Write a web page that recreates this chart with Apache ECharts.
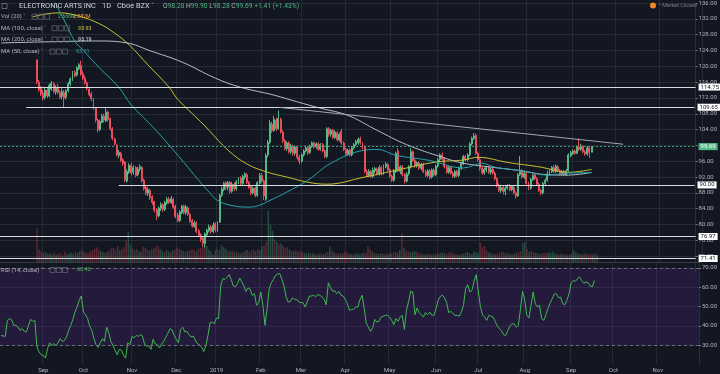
<!DOCTYPE html>
<html><head><meta charset="utf-8">
<script src="https://cdn.jsdelivr.net/npm/echarts@6/dist/echarts.min.js"></script>
<style>html,body{margin:0;padding:0;background:#131722;}#c{width:720px;height:374px;}</style>
</head><body><div id="c"></div>
<script>
// ---------- DATA ----------
const N = 331;                 // trading-day slots on the time axis (incl. future space)
const firstBar = 17;           // slot of the first visible candle
const monthTicks = {20:'Sep',39:'Oct',62:'Nov',83:'Dec',102:'2019',123:'Feb',142:'Mar',163:'Apr',184:'May',206:'Jun',226:'Jul',248:'Aug',270:'Sep',290:'Oct',311:'Nov'};
const priceTicks = {min:68, max:136, step:4};
// [open, high, low, close]
const ohlc = [
[121.6,121.8,115.5,116.0],[116.0,116.5,113.6,114.0],[114.5,115.0,112.5,113.0],[113.2,114.0,111.4,112.0],[112.2,114.8,111.6,114.0],
[114.0,114.5,112.0,112.5],[112.5,115.6,112.2,115.2],[114.2,116.3,113.8,115.8],[115.6,116.0,113.2,113.6],[113.5,115.2,112.8,114.6],
[114.8,115.6,112.9,113.4],[113.4,114.0,111.8,112.2],[112.4,114.5,111.6,113.6],[113.4,114.0,109.5,112.0],[112.2,114.2,111.6,113.8],
[113.8,116.0,113.4,115.6],[115.5,117.2,115.0,116.8],[116.6,118.8,116.3,118.4],[118.4,119.0,117.2,117.6],[117.8,120.0,117.4,119.6],
[119.4,120.8,119.0,120.4],[120.2,121.4,117.6,118.0],[118.2,118.8,116.5,117.0],[117.0,117.6,115.4,115.8],[115.8,116.2,113.9,114.4],
[114.2,114.6,112.4,112.8],[113.0,113.6,111.2,111.8],[111.6,112.0,109.0,109.6],[109.4,109.6,105.8,106.4],[106.4,106.8,103.3,104.0],
[104.0,106.5,103.6,106.0],[105.8,108.0,105.6,107.4],[107.4,108.0,105.8,106.4],[106.2,109.4,105.9,108.4],[108.4,108.8,106.0,106.6],
[106.8,107.0,103.8,104.2],[104.2,104.6,101.3,101.8],[101.6,102.0,100.0,100.4],[100.0,100.4,97.2,97.6],[97.5,98.8,96.8,98.2],
[98.0,98.4,95.8,96.2],[96.4,96.8,94.8,95.4],[95.8,96.0,90.7,91.2],[91.0,94.0,90.6,93.4],[93.2,95.5,92.8,95.0],
[95.0,95.6,92.4,93.0],[93.2,95.0,92.6,94.4],[94.4,94.8,92.0,92.4],[92.6,94.6,92.2,94.0],[94.0,95.2,93.4,94.6],
[94.4,94.8,90.6,91.0],[91.2,91.6,88.6,89.0],[89.4,89.8,87.4,88.0],[87.8,89.4,87.2,88.8],[88.6,89.0,86.2,86.8],
[87.0,87.4,85.0,85.6],[85.8,86.0,83.0,83.6],[83.8,84.2,81.2,82.2],[82.2,84.6,81.8,84.2],[84.0,85.6,83.4,85.0],
[85.0,85.4,83.2,83.8],[83.8,86.0,83.4,85.6],[85.4,87.0,85.0,86.4],[86.4,87.0,85.2,85.6],[85.6,87.2,85.2,86.6],
[86.4,86.8,84.0,84.4],[84.6,85.0,81.6,82.0],[82.4,83.0,80.6,81.0],[81.0,83.6,80.6,83.2],[83.0,85.0,82.6,84.6],
[84.6,85.0,82.6,83.0],[83.0,85.0,82.4,84.4],[84.2,84.6,82.2,82.6],[82.6,83.0,80.4,80.8],[81.0,81.4,79.2,79.6],
[79.6,81.0,79.2,80.4],[80.4,80.8,77.8,78.2],[78.4,78.8,76.8,77.2],[77.4,77.8,75.6,76.2],[76.6,77.0,74.4,75.2],
[75.2,78.0,74.2,77.6],[77.4,79.0,77.0,78.6],[78.4,80.0,78.0,79.4],[79.4,79.8,77.6,78.2],[78.2,80.6,77.8,79.8],
[80.2,80.6,78.0,78.6],[78.6,80.8,78.2,80.4],[80.6,87.8,80.4,87.4],[87.4,89.6,87.0,89.0],[88.8,90.8,88.4,90.4],
[90.6,91.0,88.8,89.4],[89.4,91.0,88.6,90.6],[90.6,91.0,87.8,88.4],[88.4,90.8,88.0,90.2],[90.2,90.6,88.4,89.0],
[89.0,91.2,88.6,90.8],[90.8,92.0,90.2,91.6],[91.8,92.2,90.0,90.4],[90.4,92.6,90.0,92.2],[92.0,93.2,91.4,92.8],
[92.6,93.0,90.2,90.6],[90.6,91.0,89.0,89.4],[89.6,90.0,87.4,88.0],[88.0,89.6,87.6,89.2],[89.2,89.6,86.9,87.4],
[87.4,91.0,87.0,90.6],[90.4,93.0,90.0,92.4],[92.4,93.0,90.6,91.0],[91.0,91.4,86.2,87.2],[86.4,98.0,86.0,97.4],
[97.6,101.4,97.0,100.8],[100.8,106.4,100.4,105.6],[105.4,106.0,103.2,103.8],[103.8,107.4,103.4,106.6],[106.4,107.0,103.6,104.2],
[104.2,108.8,104.0,106.8],[106.6,107.0,103.0,103.4],[103.4,103.8,100.6,101.2],[101.2,101.6,98.8,99.2],[99.2,101.0,98.6,100.6],
[100.6,101.0,98.0,98.4],[98.4,100.4,97.8,99.8],[99.8,100.2,97.4,98.0],[98.0,100.0,97.4,99.6],[99.6,100.0,96.4,97.0],
[97.0,97.6,95.2,96.0],[96.0,98.0,95.6,97.6],[97.6,99.0,97.2,98.6],[98.6,100.0,98.2,99.4],[99.4,99.8,97.6,98.2],
[98.2,100.2,97.8,99.8],[99.8,101.0,99.4,100.6],[100.6,101.0,99.2,99.6],[99.6,100.8,99.2,100.4],[100.4,100.8,98.6,99.0],
[99.0,100.6,98.6,100.2],[100.2,100.6,98.2,98.6],[98.6,99.0,96.8,97.2],[97.2,104.6,96.8,104.2],[104.2,104.6,102.2,102.8],
[102.8,104.2,102.2,103.8],[103.8,104.2,101.6,102.0],[102.0,103.8,101.6,103.4],[103.2,103.6,101.0,101.4],[101.4,103.2,101.0,102.8],
[103.6,104.2,100.2,100.6],[100.6,101.0,98.6,99.0],[99.0,99.4,97.4,97.8],[97.8,99.2,97.4,98.8],[98.8,99.2,97.2,97.6],
[97.6,99.8,97.2,99.4],[99.4,100.6,99.0,100.2],[100.2,101.4,99.8,101.0],[100.6,102.0,100.2,101.6],[101.6,102.2,100.2,100.6],
[100.4,100.8,99.0,99.4],[99.6,100.0,93.0,93.4],[93.4,94.0,92.0,92.4],[92.4,94.0,92.0,93.4],[93.4,93.8,91.8,92.2],
[92.2,94.4,91.8,93.8],[93.6,94.6,93.0,94.2],[94.0,94.4,92.4,92.8],[92.8,95.0,92.4,94.4],[94.4,94.8,92.4,93.0],
[93.0,95.2,92.6,94.6],[94.6,95.8,94.2,95.2],[95.2,95.6,93.4,93.8],[93.8,94.2,91.8,92.2],[92.2,92.6,90.8,91.2],
[91.2,94.0,90.8,93.6],[93.4,98.4,93.0,98.0],[98.6,99.3,93.2,93.6],[93.4,95.0,92.8,94.6],[94.6,95.0,92.2,92.6],
[92.6,93.0,90.4,91.0],[91.0,93.2,90.6,92.8],[92.8,95.0,92.4,94.6],[94.6,99.3,94.2,98.4],[98.4,98.8,95.8,96.2],
[96.2,96.6,94.4,94.8],[94.8,96.0,94.4,95.6],[95.6,96.0,93.8,94.2],[94.2,95.6,93.8,95.2],[95.2,95.6,93.0,93.4],
[93.4,93.8,92.0,92.4],[92.4,94.0,92.0,93.6],[93.6,94.0,91.4,92.0],[92.0,94.2,91.6,93.8],[93.8,94.2,92.2,92.6],
[92.6,95.2,92.2,94.8],[94.8,96.8,94.4,96.4],[96.4,98.0,96.0,97.6],[97.6,98.2,96.2,96.6],[96.6,97.0,94.2,94.6],
[94.6,95.0,92.8,93.2],[93.2,94.8,92.8,94.4],[94.4,94.8,92.6,93.0],[93.0,93.4,91.8,92.2],[92.2,93.8,91.8,93.4],
[93.4,93.8,92.0,92.4],[92.4,94.6,92.0,94.2],[94.2,95.8,93.8,95.4],[95.4,97.6,95.0,97.2],[97.2,97.6,96.0,96.4],
[96.4,98.0,96.0,97.6],[97.6,100.8,97.2,100.4],[100.4,102.2,100.0,101.8],[101.8,103.1,101.4,102.4],[102.6,103.0,97.6,98.0],
[98.0,98.4,96.0,96.4],[96.4,96.8,93.6,94.2],[94.2,94.6,92.6,93.0],[93.0,94.4,92.6,94.0],[93.8,94.8,93.2,94.4],
[94.4,94.8,92.8,93.2],[93.2,94.4,92.6,94.0],[94.0,94.4,92.6,93.0],[93.0,93.4,91.2,91.6],[91.6,92.0,89.4,90.0],
[90.0,90.4,88.2,88.6],[88.6,89.8,88.0,89.4],[89.4,89.8,87.6,88.4],[88.4,89.6,87.4,89.2],[89.2,90.2,88.8,89.8],
[89.8,90.2,88.4,88.8],[88.8,90.0,88.4,89.6],[89.4,89.8,87.6,88.0],[88.0,88.4,86.6,87.2],[87.2,93.0,87.0,92.6],
[92.6,97.3,92.2,93.4],[93.4,94.0,91.6,92.0],[92.0,93.6,91.6,93.0],[93.0,93.4,90.0,90.4],[90.4,90.8,88.7,89.2],
[89.2,91.8,88.8,91.4],[91.4,92.8,91.0,92.4],[92.6,93.0,91.2,91.6],[91.6,92.0,89.8,90.2],[90.2,90.6,88.2,88.6],
[88.6,89.0,87.4,88.0],[88.0,90.8,87.6,90.4],[90.4,91.6,90.0,91.2],[91.2,93.6,90.8,92.8],[92.8,94.0,92.4,93.6],
[93.4,94.8,93.0,94.4],[94.4,95.0,93.0,93.4],[93.4,95.2,93.0,94.8],[94.6,95.0,93.2,93.6],[93.6,94.0,92.4,92.8],
[92.8,93.8,92.4,93.4],[93.4,93.8,92.2,92.6],[92.6,94.0,92.2,93.6],[93.6,98.0,93.4,97.6],[97.4,98.6,97.0,98.2],
[98.0,99.0,97.6,98.6],[98.6,99.0,97.6,98.0],[98.0,100.0,97.8,99.6],[99.6,101.8,98.6,99.0],[99.0,100.4,98.6,99.8],
[99.8,100.0,98.0,98.4],[98.4,98.8,97.4,97.8],[97.8,99.8,97.4,99.4],[99.4,99.6,96.8,98.2],[98.28,99.9,98.28,99.69]
];
// volume in millions, one per candle
const volume = [
12,4.5,3.8,3.2,3.5,2.8,3.0,2.6,3.4,2.5,
2.8,3.1,2.4,3.6,2.7,3.0,3.3,2.9,3.5,3.1,
3.8,4.2,3.6,3.3,3.0,3.9,4.1,4.6,5.2,4.4,
3.8,3.5,3.2,3.6,4.0,4.8,5.0,4.2,5.5,4.0,
4.6,5.2,7.5,10.5,6.0,4.8,4.2,4.5,3.8,3.6,
5.4,5.0,4.4,3.9,4.6,4.8,5.2,5.8,4.6,4.0,
3.6,4.2,3.8,3.5,4.0,4.4,5.0,4.6,4.2,3.9,
3.6,3.8,4.0,4.5,4.3,3.7,4.6,4.9,5.3,6.2,
5.6,4.4,3.8,2.6,4.0,4.6,4.2,6.0,5.2,4.6,
3.8,3.6,4.0,3.4,3.6,3.2,3.0,3.5,3.8,4.2,
3.6,4.0,4.4,3.8,4.6,4.2,5.4,5.8,7.0,18.0,
13.0,11.0,8.0,7.0,6.2,6.5,5.8,5.0,5.2,4.4,
4.0,3.8,4.2,3.6,3.8,3.4,3.2,3.0,3.3,2.9,
3.1,2.8,2.6,2.9,3.0,2.7,3.2,3.4,5.4,4.0,
3.4,3.0,2.8,3.2,3.0,3.6,3.3,3.0,2.8,2.6,
2.9,3.1,2.7,3.0,3.4,3.2,5.6,4.4,3.6,3.2,
3.0,2.8,3.1,2.9,2.7,3.0,2.8,3.2,3.4,3.6,
3.3,4.2,10.0,5.0,4.0,3.8,3.4,3.6,3.8,3.5,
3.1,2.9,2.8,2.6,3.0,2.7,2.5,2.8,2.6,2.9,
3.1,3.3,3.0,2.8,3.2,3.4,2.9,2.7,2.6,2.5,
2.8,3.0,3.2,3.5,3.0,2.8,3.6,3.4,3.1,6.8,
5.2,5.6,4.0,3.4,3.0,2.8,2.6,2.9,3.2,3.6,
3.4,3.0,3.2,2.8,2.6,2.9,3.1,3.4,3.8,6.6,
7.0,4.6,3.6,3.8,3.4,3.2,3.0,2.8,3.1,3.3,
3.0,3.4,3.2,3.6,3.0,2.8,2.7,2.9,2.6,2.8,
2.5,2.7,2.9,4.2,3.4,3.0,2.8,2.6,3.1,2.9,
2.7,2.8,2.6,3.0,2.7
];
// RSI(14), one per slot from slot 0
const rsi = [
35.0,34.7,34.5,42.8,43.7,43.1,40.2,40.2,39.3,37.6,
38.5,37.1,36.8,40.2,43.3,42.3,42.8,29.0,26.4,25.0,
24.7,23.3,28.1,31.2,29.8,30.7,29.8,31.2,33.3,31.9,
32.3,34.2,37.6,40.2,43.3,47.1,49.7,53.2,55.4,47.1,
45.7,43.7,39.7,37.6,33.3,30.2,28.8,31.2,33.3,31.9,
39.3,36.4,31.9,29.8,27.3,25.0,27.8,27.3,24.7,23.3,
31.2,30.2,34.5,33.7,35.0,34.5,35.4,34.7,30.2,29.5,
29.5,27.8,33.0,30.7,30.2,28.5,30.5,31.9,34.0,36.1,
38.5,37.8,35.0,33.0,31.2,38.1,39.3,36.8,37.1,35.4,
34.2,34.7,32.5,30.7,30.2,29.0,26.7,29.8,35.0,41.6,
41.9,41.1,44.0,43.7,60.6,64.4,64.0,65.1,66.5,64.0,
60.6,60.2,61.8,64.7,62.7,60.6,57.8,59.6,58.9,55.7,
56.6,50.6,52.0,57.5,50.6,40.2,48.8,59.2,62.3,64.0,
66.1,66.8,67.0,64.0,60.6,54.9,52.3,52.6,54.4,53.7,
53.7,52.3,52.0,52.0,49.7,52.3,55.4,55.4,55.8,55.1,
56.1,55.8,54.9,53.7,50.9,62.3,59.9,57.8,58.2,56.6,
57.8,55.8,55.4,53.7,51.3,48.0,48.5,48.5,49.7,49.7,
53.7,55.8,48.8,41.1,39.3,37.1,39.0,43.3,41.9,42.3,
44.5,45.0,45.4,45.4,44.5,42.8,40.6,43.7,42.3,44.5,
45.4,38.1,48.0,52.6,57.8,57.5,45.7,49.2,46.8,45.7,
44.5,46.8,45.7,47.1,45.4,45.4,48.8,53.2,55.1,55.9,
54.5,52.0,46.8,47.5,46.3,45.4,45.4,45.0,47.1,50.6,
59.2,61.3,57.5,58.3,63.0,66.5,58.0,50.0,45.7,44.5,
42.8,45.4,45.0,44.5,42.3,39.9,38.5,37.5,35.4,35.0,
37.6,39.9,41.1,40.9,39.3,40.2,48.8,57.8,53.2,45.4,
44.0,50.6,57.5,51.4,49.7,50.6,43.7,42.8,45.7,48.8,
51.8,54.0,56.4,56.6,54.5,54.9,51.4,50.9,53.3,56.6,
62.3,63.4,63.0,64.4,65.3,63.4,62.0,62.7,62.3,60.6,
60.1,63.42
];
// moving averages: [slot, value]
const ma50 = [[25,136.8],[30,131.7],[35,126.4],[39,124.1],[47,119.5],[56,114.7],[62,110.2],[70,105.9],[78,101.3],[87,95.7],[94,91.2],[99,88.2],[103,86.1],[109,84.9],[117,84.4],[122,84.7],[128,86.1],[136,88.2],[146,91.2],[157,95.5],[173,98.8],[179,99.0],[188,97.5],[204,96.2],[220,94.3],[229,95.5],[235,94.5],[249,93.5],[260,92.5],[270,93.0],[281,93.11]];
const ma100 = [[15,132.5],[21,133.2],[28,133.5],[37,132.7],[47,130.7],[54,128.4],[61,125.4],[70,120.3],[80,114.7],[84,111.7],[95,106.0],[99,103.8],[108,98.8],[117,95.3],[127,93.2],[136,92.0],[146,90.7],[155,90.2],[173,92.0],[188,93.7],[207,95.8],[220,96.3],[227,97.0],[241,95.7],[257,94.5],[270,93.2],[281,93.93]];
const ma200 = [[0,125.9],[23,126.2],[47,126.4],[61,125.8],[70,124.1],[86,121.1],[102,117.0],[114,114.7],[130,112.7],[141,111.0],[152,109.4],[165,107.6],[179,103.8],[193,100.2],[210,97.0],[220,95.5],[235,94.4],[246,93.7],[260,92.6],[270,92.5],[281,93.19]];
// drawn horizontal levels (from = first slot, null = full width) and trend line
const levels = [
  {price:114.75, from:null},
  {price:109.65, from:12},
  {price:90.00,  from:56},
  {price:76.97,  from:null},
  {price:71.41,  from:null}
];
const lastClose = 99.69;
const trendLine = [[132,109.65],[296,100.3]];

// ---------- CHART ----------
const UP = '#53b987', DOWN = '#eb4d5c';
const GRID = '#262a35', TXT = '#b2b5be';
const FONT = 'Roboto, "Noto Sans", sans-serif';
const cats = Array.from({length:N}, (_, i) => i);
const candleData = [], volData = [];
for (let i = 0; i < N; i++) {
  const k = i - firstBar;
  if (k >= 0 && k < ohlc.length) {
    const [o,h,l,c] = ohlc[k];
    candleData.push([o,c,l,h]);
    volData.push({value: volume[k], itemStyle:{color: c >= o ? 'rgba(83,185,135,0.32)' : 'rgba(235,77,92,0.32)'}});
  } else { candleData.push('-'); volData.push('-'); }
}
const isMonth = (idx) => monthTicks[idx] !== undefined;

const lvlLabel = (p, bg, fg) => ({show:true, position:'end', distance:3, formatter:() => p.toFixed(2),
  backgroundColor:bg, color:fg, fontSize:6, fontFamily:FONT, padding:[1,2,0,2]});
const markData = [];
levels.forEach(L => {
  const ls = {color:'#d9dbe2', width:1.2, type:'solid'};
  if (L.from === null) markData.push({yAxis:L.price, lineStyle:ls, label:lvlLabel(L.price,'#ffffff','#131722')});
  else markData.push([{coord:[L.from, L.price], lineStyle:ls, label:lvlLabel(L.price,'#ffffff','#131722')},{coord:[N-1, L.price]}]);
});
markData.push({yAxis:lastClose, lineStyle:{color:'#3e9b7a', width:1, type:[2,2]}, label:lvlLabel(lastClose, UP, '#ffffff')});
markData.push([{coord:trendLine[0], lineStyle:{color:'#a3a6af', width:1, type:'solid'}, label:{show:false}},{coord:trendLine[1]}]);

function txt(x, y, text, fill, size, weight) {
  return {type:'text', x, y, z:100, silent:true, style:{text, fill, font:(weight||'normal')+' '+size+'px '+FONT, align:'left', verticalAlign:'middle'}};
}
function boxes(x, y) {
  return [0,1,2].map(k => ({type:'rect', z:100, silent:true, shape:{x:x+k*6.3, y:y-2.5, width:5, height:5}, style:{fill:'rgba(0,0,0,0)', stroke:'#6a6d78', lineWidth:0.7}}));
}
const graphics = [
  {type:'rect', z:100, silent:true, shape:{x:2, y:3.5, width:5, height:5}, style:{fill:'rgba(0,0,0,0)', stroke:'#787b86', lineWidth:0.8}},
  txt(19, 6.5, 'ELECTRONIC ARTS INC', '#d1d4dc', 7.4),
  txt(102, 6.5, '1D', '#d1d4dc', 7.4),
  txt(117, 6.5, 'Cboe BZX \u02c5', '#d1d4dc', 7.4),
  {type:'text', x:163, y:6.5, z:100, silent:true, style:{text:'{l|O}{v|98.28} {l|H}{v|99.90} {l|L}{v|98.28} {l|C}{v|99.69} {v|+1.41 (+1.43%)}', font:'normal 6.7px '+FONT, verticalAlign:'middle', align:'left',
    rich:{l:{fill:'#b2b5be', fontSize:6.7, fontFamily:FONT}, v:{fill:UP, fontSize:6.7, fontFamily:FONT}}}},
  txt(1, 16.7, 'Vol (20) \u02c5', TXT, 6), ...boxes(32, 16.7), txt(58, 16.7, '2.666M', UP, 5.2), txt(73, 16.7, '2.882M', '#f0a33a', 5.2),
  txt(1, 28.3, 'MA (100, close) \u02c5', TXT, 6), ...boxes(52, 28.3), txt(78, 28.3, '93.93', '#d4cf36', 5.4),
  txt(1, 39.5, 'MA (200, close) \u02c5', TXT, 6), ...boxes(52, 39.5), txt(78, 39.5, '93.19', '#e0e2e8', 5.4),
  txt(1, 51.5, 'MA (50, close) \u02c5', TXT, 6), ...boxes(50, 51.5), txt(76, 51.5, '93.11', '#2ba7a9', 5.4),
  txt(1, 270, 'RSI (14, close) \u02c5', TXT, 6), ...boxes(50, 270), txt(77, 270, '63.42', '#3fc150', 5.4),
  {type:'circle', z:100, silent:true, shape:{cx:653, cy:5.5, r:3}, style:{fill:'#f08a24'}},
  txt(659, 5.5, '\u2022 Market Closed', '#787b86', 5.4)
];

const option = {
  backgroundColor:'#131722',
  animation:false,
  graphic: graphics,
  grid: [
    {left:0, right:18, top:3, height:269},      // price
    {left:0, right:18, top:0, height:262},      // volume (main pane)
    {left:0, right:18, top:263, height:101.4}   // RSI
  ],
  xAxis: [
    {type:'category', gridIndex:0, data:cats, show:false},
    {type:'category', gridIndex:1, data:cats, axisLabel:{show:false}, axisTick:{show:false},
      axisLine:{show:true, lineStyle:{color:'#363a45', width:1}},
      splitLine:{show:true, interval:(i)=>isMonth(i), lineStyle:{color:GRID, width:1}}},
    {type:'category', gridIndex:2, data:cats, axisTick:{show:false}, axisLine:{show:false},
      axisLabel:{show:true, interval:(i)=>isMonth(i), formatter:(v)=>monthTicks[v]||'', color:TXT, fontSize:6, fontFamily:FONT, margin:3},
      splitLine:{show:true, interval:(i)=>isMonth(i), lineStyle:{color:GRID, width:1}}}
  ],
  yAxis: [
    {type:'value', gridIndex:0, position:'right', min:priceTicks.min, max:priceTicks.max, interval:priceTicks.step,
      axisLine:{show:true, lineStyle:{color:'#2a2e39'}}, axisTick:{show:true, length:2, lineStyle:{color:'#787b86'}},
      axisLabel:{color:TXT, fontSize:6, fontFamily:FONT, margin:3, formatter:(v)=>v.toFixed(2), showMinLabel:false},
      splitLine:{show:true, showMinLine:false, lineStyle:{color:GRID, width:1}}},
    {type:'value', gridIndex:1, min:0, max:92, show:false, splitLine:{show:false}},
    {type:'value', gridIndex:2, position:'right', min:20, max:72.5, interval:10,
      axisLine:{show:true, lineStyle:{color:'#2a2e39'}}, axisTick:{show:true, length:2, lineStyle:{color:'#787b86'}},
      axisLabel:{color:TXT, fontSize:6, fontFamily:FONT, margin:3, formatter:(v)=>v.toFixed(2), showMinLabel:false, showMaxLabel:false},
      splitLine:{show:true, showMinLine:false, showMaxLine:false, lineStyle:{color:GRID, width:1}}}
  ],
  series: [
    {type:'bar', xAxisIndex:1, yAxisIndex:1, data:volData, barWidth:'72%', z:1, silent:true},
    {type:'candlestick', xAxisIndex:0, yAxisIndex:0, data:candleData, barWidth:'70%', z:3,
      itemStyle:{color:UP, color0:DOWN, borderColor:UP, borderColor0:DOWN, borderWidth:1},
      markLine:{symbol:['none','none'], silent:true, animation:false, data:markData}},
    {type:'line', xAxisIndex:0, yAxisIndex:0, data:ma100, smooth:0.4, showSymbol:false, z:4, lineStyle:{color:'#c8c030', width:1}},
    {type:'line', xAxisIndex:0, yAxisIndex:0, data:ma200, smooth:0.4, showSymbol:false, z:4, lineStyle:{color:'#b8bcc6', width:1}},
    {type:'line', xAxisIndex:0, yAxisIndex:0, data:ma50, smooth:0.4, showSymbol:false, z:4, lineStyle:{color:'#27a4a8', width:1}},
    {type:'line', xAxisIndex:2, yAxisIndex:2, data:rsi, showSymbol:false, z:4, lineStyle:{color:'#3fb950', width:1},
      markArea:{silent:true, itemStyle:{color:'rgba(120,40,190,0.17)'}, data:[[{yAxis:30},{yAxis:70}]]},
      markLine:{silent:true, symbol:['none','none'], label:{show:false}, lineStyle:{color:'#6b6e7a', type:[3,3], width:1},
        data:[{yAxis:70},{yAxis:30}]}}
  ]
};
const chart = echarts.init(document.getElementById('c'));
chart.setOption(option);
</script></body></html>
